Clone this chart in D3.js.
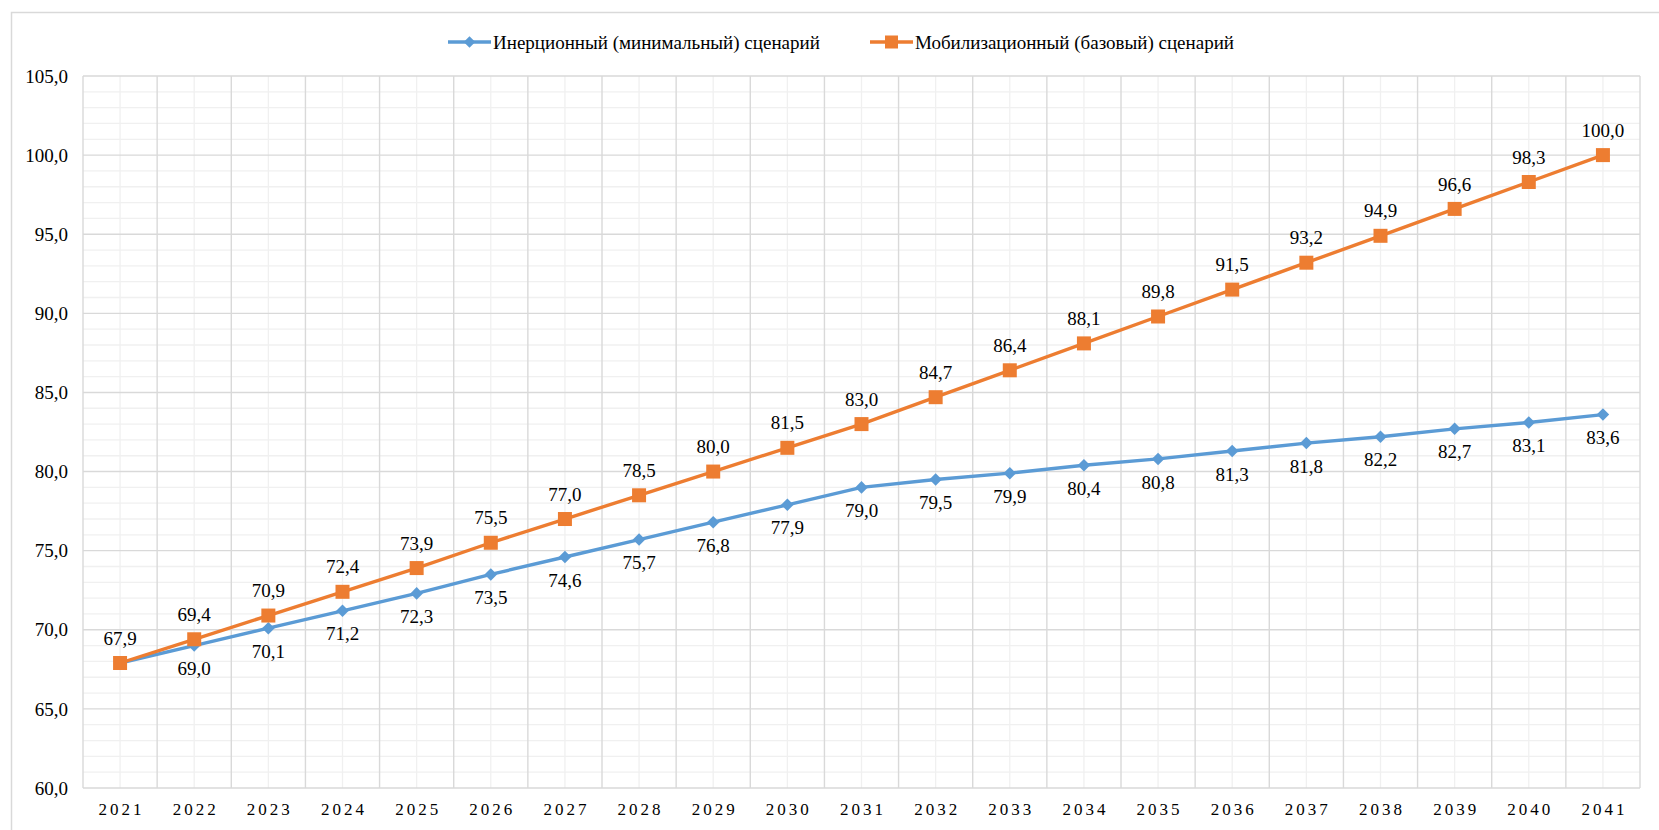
<!DOCTYPE html>
<html>
<head>
<meta charset="utf-8">
<script src="https://cdn.jsdelivr.net/npm/d3@7"></script>
<style>
  body { margin: 0; background: #fff; }
</style>
</head>
<body>
<div id="box"></div>
<script>
// data
var years = ["2021","2022","2023","2024","2025","2026","2027","2028","2029","2030","2031",
             "2032","2033","2034","2035","2036","2037","2038","2039","2040","2041"];
var inertial = [67.9, 69.0, 70.1, 71.2, 72.3, 73.5, 74.6, 75.7, 76.8, 77.9, 79.0,
                79.5, 79.9, 80.4, 80.8, 81.3, 81.8, 82.2, 82.7, 83.1, 83.6];
var mobil = [67.9, 69.4, 70.9, 72.4, 73.9, 75.5, 77.0, 78.5, 80.0, 81.5, 83.0,
             84.7, 86.4, 88.1, 89.8, 91.5, 93.2, 94.9, 96.6, 98.3, 100.0];
var seriesNames = ["Инерционный (минимальный) сценарий", "Мобилизационный (базовый) сценарий"];
var yTicks = [60, 65, 70, 75, 80, 85, 90, 95, 100, 105];

var width = 1659, height = 830;
var pLeft = 83, pRight = 1640, pTop = 76, pBottom = 788;
var blue = "#5b9bd5", orange = "#ed7d31";
var serif = "'Liberation Serif'";

var svg = d3.select("#box").append("svg")
  .attr("width", width)
  .attr("height", height);

// outer chart border
svg.append("rect")
  .attr("x", 11.5).attr("y", 12.5)
  .attr("width", 1660).attr("height", 840)
  .attr("fill", "none").attr("stroke", "#d9d9d9").attr("stroke-width", 1.5);

var x = d3.scaleBand().domain(years).range([pLeft, pRight]);
var y = d3.scaleLinear().domain([60, 105]).range([pBottom, pTop]);
var fmt = function(v) { return d3.format(".1f")(v).replace(".", ","); };
var cx = function(i) { return x(years[i]) + x.bandwidth() / 2; };

// minor gridlines
var g = svg.append("g");
g.selectAll("line.hminor")
  .data(d3.range(60, 106, 1).filter(function(v) { return v % 5 != 0; }))
  .enter().append("line")
  .attr("x1", pLeft).attr("x2", pRight)
  .attr("y1", function(d) { return y(d); }).attr("y2", function(d) { return y(d); })
  .attr("stroke", "#f0f0f0").attr("stroke-width", 1.3);
g.selectAll("line.vminor")
  .data(years).enter().append("line")
  .attr("x1", function(d, i) { return cx(i); })
  .attr("x2", function(d, i) { return cx(i); })
  .attr("y1", pTop).attr("y2", pBottom)
  .attr("stroke", "#f0f0f0").attr("stroke-width", 1.3);

// major gridlines
g.selectAll("line.hmajor")
  .data(yTicks).enter().append("line")
  .attr("x1", pLeft).attr("x2", pRight)
  .attr("y1", function(d) { return y(d); }).attr("y2", function(d) { return y(d); })
  .attr("stroke", "#d9d9d9").attr("stroke-width", 1.4);
g.selectAll("line.vmajor")
  .data(years.concat(["end"])).enter().append("line")
  .attr("x1", function(d, i) { return pLeft + i * x.step(); })
  .attr("x2", function(d, i) { return pLeft + i * x.step(); })
  .attr("y1", pTop).attr("y2", pBottom)
  .attr("stroke", "#d9d9d9").attr("stroke-width", 1.4);

// axis labels
svg.selectAll("text.ytick")
  .data(yTicks).enter().append("text")
  .attr("x", 68).attr("y", function(d) { return y(d); })
  .attr("dy", "0.35em")
  .attr("text-anchor", "end")
  .style("font-family", serif)
  .style("font-size", "19px")
  .text(fmt);

svg.selectAll("text.xtick")
  .data(years).enter().append("text")
  .attr("x", function(d, i) { return cx(i) + 1.5; })
  .attr("y", 815)
  .attr("text-anchor", "middle")
  .style("font-family", serif)
  .style("font-size", "17px")
  .style("letter-spacing", "3px")
  .text(function(d) { return d; });

// lines
var line = d3.line()
  .x(function(d, i) { return cx(i); })
  .y(function(d) { return y(d); });

svg.append("path").attr("d", line(inertial))
  .attr("fill", "none").attr("stroke", blue).attr("stroke-width", 3.4);
svg.selectAll("path.diamond")
  .data(inertial).enter().append("path")
  .attr("d", d3.symbol().type(d3.symbolDiamond2).size(100))
  .attr("transform", function(d, i) { return "translate(" + cx(i) + "," + y(d) + ")"; })
  .attr("fill", blue);

svg.append("path").attr("d", line(mobil))
  .attr("fill", "none").attr("stroke", orange).attr("stroke-width", 3.4);
svg.selectAll("rect.sq")
  .data(mobil).enter().append("rect")
  .attr("x", function(d, i) { return cx(i) - 7; })
  .attr("y", function(d) { return y(d) - 7; })
  .attr("width", 14).attr("height", 14)
  .attr("fill", orange);

// data labels (blue 2021 label coincides with orange and is not shown)
svg.selectAll("text.lblb")
  .data(inertial.slice(1)).enter().append("text")
  .attr("x", function(d, i) { return cx(i + 1); })
  .attr("y", function(d) { return y(d) + 23; })
  .attr("dy", "0.35em")
  .attr("text-anchor", "middle")
  .style("font-family", serif)
  .style("font-size", "19px")
  .text(fmt);

svg.selectAll("text.lblo")
  .data(mobil).enter().append("text")
  .attr("x", function(d, i) { return cx(i); })
  .attr("y", function(d) { return y(d) - 25; })
  .attr("dy", "0.35em")
  .attr("text-anchor", "middle")
  .style("font-family", serif)
  .style("font-size", "19px")
  .text(fmt);

// legend
var legX = [448, 870];
var leg = svg.selectAll("g.leg")
  .data(seriesNames).enter().append("g")
  .attr("transform", function(d, i) { return "translate(" + legX[i] + ",42)"; });
leg.append("line")
  .attr("x1", 0).attr("x2", 43).attr("y1", 0).attr("y2", 0)
  .attr("stroke", function(d, i) { return i == 0 ? blue : orange; })
  .attr("stroke-width", 3.4);
leg.each(function(d, i) {
  if (i == 0) {
    d3.select(this).append("path")
      .attr("d", d3.symbol().type(d3.symbolDiamond2).size(85))
      .attr("transform", "translate(21.5,0)")
      .attr("fill", blue);
  } else {
    d3.select(this).append("rect")
      .attr("x", 15).attr("y", -6.5).attr("width", 13).attr("height", 13)
      .attr("fill", orange);
  }
});
leg.append("text")
  .attr("x", 45).attr("y", 0).attr("dy", "0.35em")
  .style("font-family", serif)
  .style("font-size", "19px")
  .text(function(d) { return d; });
</script>
</body>
</html>
